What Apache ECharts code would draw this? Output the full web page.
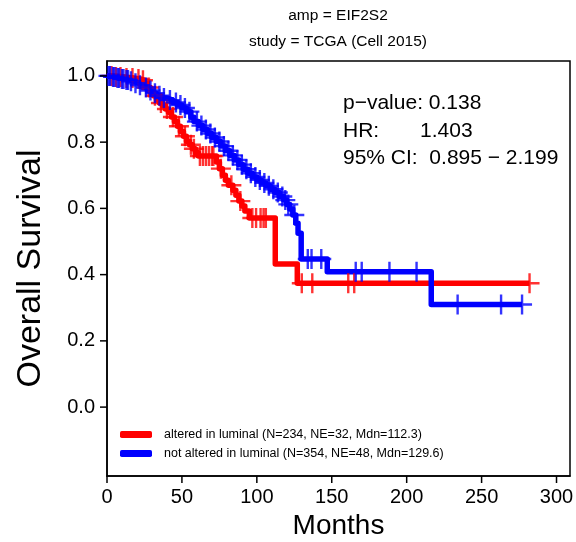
<!DOCTYPE html>
<html>
<head>
<meta charset="utf-8">
<script src="https://cdn.jsdelivr.net/npm/echarts@6/dist/echarts.min.js"></script>
<style>html,body{margin:0;padding:0;background:#fff;}#c{width:576px;height:542px;}</style>
</head>
<body>
<div id="c"></div>
<script>
// ---- data ----
const titleLines = ['amp = EIF2S2', 'study = TCGA (Cell 2015)'];
const statLines = ['p\u2212value: 0.138', 'HR:       1.403', '95% CI:  0.895 \u2212 2.199'];
const xTicks = [0, 50, 100, 150, 200, 250, 300];
const yTicks = [0.0, 0.2, 0.4, 0.6, 0.8, 1.0];
const redName = 'altered in luminal (N=234, NE=32, Mdn=112.3)';
const blueName = 'not altered in luminal (N=354, NE=48, Mdn=129.6)';

// Kaplan-Meier steps: [months, survival after the event]
const redSteps = [[0,1.0],[6,0.997],[12,0.994],[18,0.991],[22,0.987],[25,0.978],[27,0.965],[29,0.952],[31,0.94],[33,0.928],[35,0.918],[37,0.91],[39,0.9],[41,0.89],[43,0.876],[45,0.862],[47,0.848],[49,0.832],[51,0.818],[53,0.803],[55,0.792],[57,0.78],[59,0.768],[61,0.758],[73,0.74],[75,0.72],[77,0.70],[79,0.685],[81,0.67],[84,0.655],[86,0.64],[88,0.622],[90,0.607],[92,0.592],[95,0.571],[112.3,0.432],[127,0.374],[282,0.374]];
const blueSteps = [[0,1.0],[3,0.997],[6,0.994],[9,0.991],[12,0.988],[15,0.984],[18,0.978],[21,0.972],[24,0.965],[27,0.956],[30,0.948],[33,0.94],[36,0.933],[40,0.927],[44,0.92],[47,0.912],[50,0.903],[53,0.892],[56,0.875],[58,0.862],[61,0.85],[64,0.838],[67,0.826],[70,0.814],[73,0.802],[76,0.788],[79,0.774],[82,0.76],[85,0.746],[88,0.732],[91,0.718],[94,0.706],[97,0.695],[100,0.686],[103,0.677],[106,0.668],[109,0.658],[112,0.648],[115,0.636],[118,0.625],[120,0.612],[122,0.598],[124,0.58],[126,0.555],[127.5,0.525],[129.6,0.447],[147,0.409],[216.4,0.31],[277,0.31]];
// censoring times (months)
const redCensor = [3,6,9,13,17,21,24,28,32,36,40,44,48,52,56,58,62,64,66,68,70,71,76,83,89,97,99.5,102.5,104.5,106,130,137,161,165,282];
const blueCensor = [1,2,4,5,7,8,10,11,13,14,16,19,22,26,29,32,35,38,42,46,49,52,55,60,63,66,69,72,75,78,81,84,87,90,93,96,99,102,105,108,111,114,117,119,121,125,134,136.5,143,166,170,188.5,206.6,234,263,277];

// survival value of a step curve at time t
function survAt(steps, t) {
  let v = steps[0][1];
  for (const s of steps) { if (s[0] <= t) v = s[1]; else break; }
  return v;
}
const redMarks = redCensor.map(t => [t, survAt(redSteps, t)]);
const blueMarks = blueCensor.map(t => [t, survAt(blueSteps, t)]);

const RED = '#FF0000', BLUE = '#0000FF';
const FONT = 'Liberation Sans, Arial, Helvetica, sans-serif';
const plus = 'path://M-1.2,-10 L1.2,-10 L1.2,10 L-1.2,10 Z M-10,-1.2 L10,-1.2 L10,1.2 L-10,1.2 Z';
const X_MIN = 0, X_MAX = 309, Y_MIN = -0.208, Y_MAX = 1.045, TICK = 7;

const chart = echarts.init(document.getElementById('c'), null, {renderer: 'canvas'});
chart.setOption({
  animation: false,
  backgroundColor: '#fff',
  title: [
    {text: titleLines[0], left: 338, top: 8, padding: 0, textAlign: 'center', textStyle: {fontFamily: FONT, fontSize: 15.5, fontWeight: 'normal', color: '#000'}},
    {text: titleLines[1], left: 338, top: 34, padding: 0, textAlign: 'center', textStyle: {fontFamily: FONT, fontSize: 15.5, fontWeight: 'normal', color: '#000'}}
  ],
  graphic: statLines.map((s, i) => ({
    type: 'text', left: 343, top: 93 + i * 27.5,
    style: {text: s, font: '21px ' + FONT, fill: '#000'}
  })),
  grid: {left: 107, right: 6, top: 61, bottom: 66, outerBoundsMode: 'none', containLabel: false,
         show: true, borderColor: '#000', borderWidth: 1.5, backgroundColor: 'transparent'},
  xAxis: {
    type: 'value', min: X_MIN, max: X_MAX,
    name: 'Months', nameLocation: 'middle', nameGap: 36,
    nameTextStyle: {fontFamily: FONT, fontSize: 28, color: '#000'},
    axisLine: {show: true, onZero: false, lineStyle: {color: '#000', width: 1.5}},
    axisTick: {show: false},
    axisLabel: {customValues: xTicks, fontFamily: FONT, fontSize: 20, color: '#000', margin: 11},
    splitLine: {show: false}
  },
  yAxis: {
    type: 'value', min: Y_MIN, max: Y_MAX,
    name: 'Overall Survival', nameLocation: 'middle', nameGap: 59, nameRotate: 90,
    nameTextStyle: {fontFamily: FONT, fontSize: 34, color: '#000'},
    axisLine: {show: true, onZero: false, lineStyle: {color: '#000', width: 1.5}},
    axisTick: {show: false},
    axisLabel: {customValues: yTicks, formatter: v => v.toFixed(1), fontFamily: FONT, fontSize: 20, color: '#000', margin: 12},
    splitLine: {show: false}
  },
  legend: {
    orient: 'vertical', left: 115, top: 423, itemWidth: 32, itemHeight: 7, itemGap: 6,
    textStyle: {fontFamily: FONT, fontSize: 12.5, color: '#000', padding: [0, 0, 0, 7]},
    data: [{name: redName, icon: 'roundRect'}, {name: blueName, icon: 'roundRect'}]
  },
  series: [
    {name: redName, type: 'line', step: 'end', data: redSteps, showSymbol: false, color: RED,
     lineStyle: {color: RED, width: 5.5, join: 'round'}, z: 2},
    {name: blueName, type: 'line', step: 'end', data: blueSteps, showSymbol: false, color: BLUE,
     lineStyle: {color: BLUE, width: 5.5, join: 'round'}, z: 3},
    {name: 'red censored', type: 'scatter', data: redMarks, symbol: plus, symbolSize: [20, 20],
     itemStyle: {color: RED}, z: 4, silent: true},
    {name: 'blue censored', type: 'scatter', data: blueMarks, symbol: plus, symbolSize: [20, 20],
     itemStyle: {color: BLUE}, z: 5, silent: true},
    // axis tick marks placed through the axis scales
    {name: 'x ticks', type: 'custom', data: xTicks.map(v => [v, Y_MIN]), clip: false, silent: true, z: 6,
     renderItem: (params, api) => {
       const p = api.coord([api.value(0), api.value(1)]);
       return {type: 'line', shape: {x1: p[0], y1: p[1], x2: p[0], y2: p[1] + TICK}, style: {stroke: '#000', lineWidth: 1.5}};
     }},
    {name: 'y ticks', type: 'custom', data: yTicks.map(v => [X_MIN, v]), clip: false, silent: true, z: 6,
     renderItem: (params, api) => {
       const p = api.coord([api.value(0), api.value(1)]);
       return {type: 'line', shape: {x1: p[0], y1: p[1], x2: p[0] - TICK, y2: p[1]}, style: {stroke: '#000', lineWidth: 1.5}};
     }}
  ]
});
</script>
</body>
</html>
